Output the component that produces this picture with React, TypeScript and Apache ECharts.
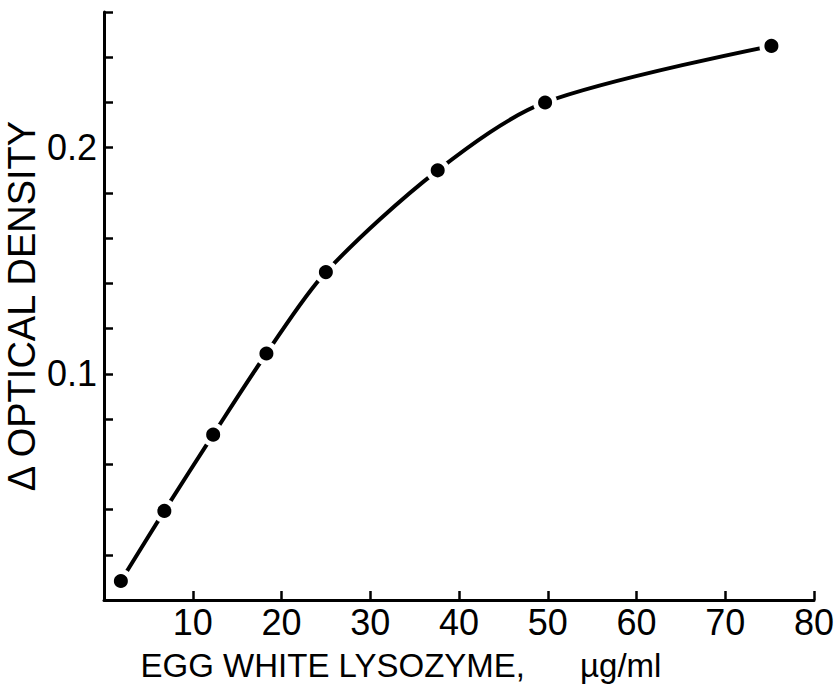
import React, { useEffect, useRef } from "react";
import * as echarts from "echarts";

// Egg white lysozyme concentration (µg/ml)
const lysozyme = [1.9, 6.8, 12.3, 18.3, 25.0, 37.6, 49.7, 75.2];
// Δ optical density
const deltaOD = [0.0084, 0.0394, 0.0731, 0.109, 0.145, 0.19, 0.22, 0.245];

const xTickLabels = ["10", "20", "30", "40", "50", "60", "70", "80"];
const yTickLabels: Record<string, string> = { "0.1": "0.1", "0.2": "0.2" };

const FONT = "'Liberation Sans', Arial, sans-serif";

export default function App() {
  const ref = useRef<HTMLDivElement>(null);
  useEffect(() => {
    if (!ref.current) return;
    const chart = echarts.init(ref.current, undefined, { renderer: "svg" });
    chart.setOption({
      animation: false,
      backgroundColor: "#fff",
      grid: {
        left: 104,
        right: 21,
        top: 12,
        bottom: 86,
        containLabel: false,
        outerBoundsMode: "none",
      },
      xAxis: {
        type: "value",
        min: 0,
        max: 80,
        interval: 10,
        name: "EGG WHITE LYSOZYME,\u00a0\u00a0\u00a0\u00a0\u00a0\u00a0µg/ml",
        nameLocation: "middle",
        nameGap: 49,
        nameMoveOverlap: false,
        nameTextStyle: {
          color: "#000",
          fontFamily: FONT,
          fontSize: 33,
          padding: [0, 116, 0, 0],
        },
        axisLine: { show: true, onZero: false, lineStyle: { color: "#000", width: 3 } },
        axisTick: { show: true, inside: true, length: 9, lineStyle: { color: "#000", width: 2.5 } },
        axisLabel: {
          color: "#000",
          fontFamily: FONT,
          fontSize: 36,
          margin: 4,
          formatter: (v: number) => {
            const s = String(Math.round(v));
            return xTickLabels.includes(s) ? s : "";
          },
        },
        splitLine: { show: false },
      },
      yAxis: {
        type: "value",
        min: 0,
        max: 0.26,
        interval: 0.02,
        name: "Δ OPTICAL DENSITY",
        nameLocation: "middle",
        nameGap: 63,
        nameRotate: 90,
        nameMoveOverlap: false,
        nameTextStyle: { color: "#000", fontFamily: FONT, fontSize: 38, lineHeight: 38 },
        axisLine: { show: true, onZero: false, lineStyle: { color: "#000", width: 3 } },
        axisTick: { show: true, inside: true, length: 9, lineStyle: { color: "#000", width: 2.5 } },
        axisLabel: {
          color: "#000",
          fontFamily: FONT,
          fontSize: 36,
          margin: 7,
          formatter: (v: number) => yTickLabels[(Math.round(v * 100) / 100).toString()] || "",
        },
        splitLine: { show: false },
      },
      series: [
        {
          type: "line",
          data: lysozyme.map((x, i) => [x, deltaOD[i]]),
          smooth: 0.3,
          symbol: "circle",
          symbolSize: 19,
          showSymbol: true,
          lineStyle: { color: "#000", width: 4 },
          itemStyle: { color: "#000", borderColor: "#fff", borderWidth: 5 },
          z: 3,
        },
      ],
    });
    return () => chart.dispose();
  }, []);
  return (
    <div
      ref={ref}
      style={{ position: "fixed", left: 0, top: 0, width: 835, height: 686, background: "#fff" }}
    />
  );
}
